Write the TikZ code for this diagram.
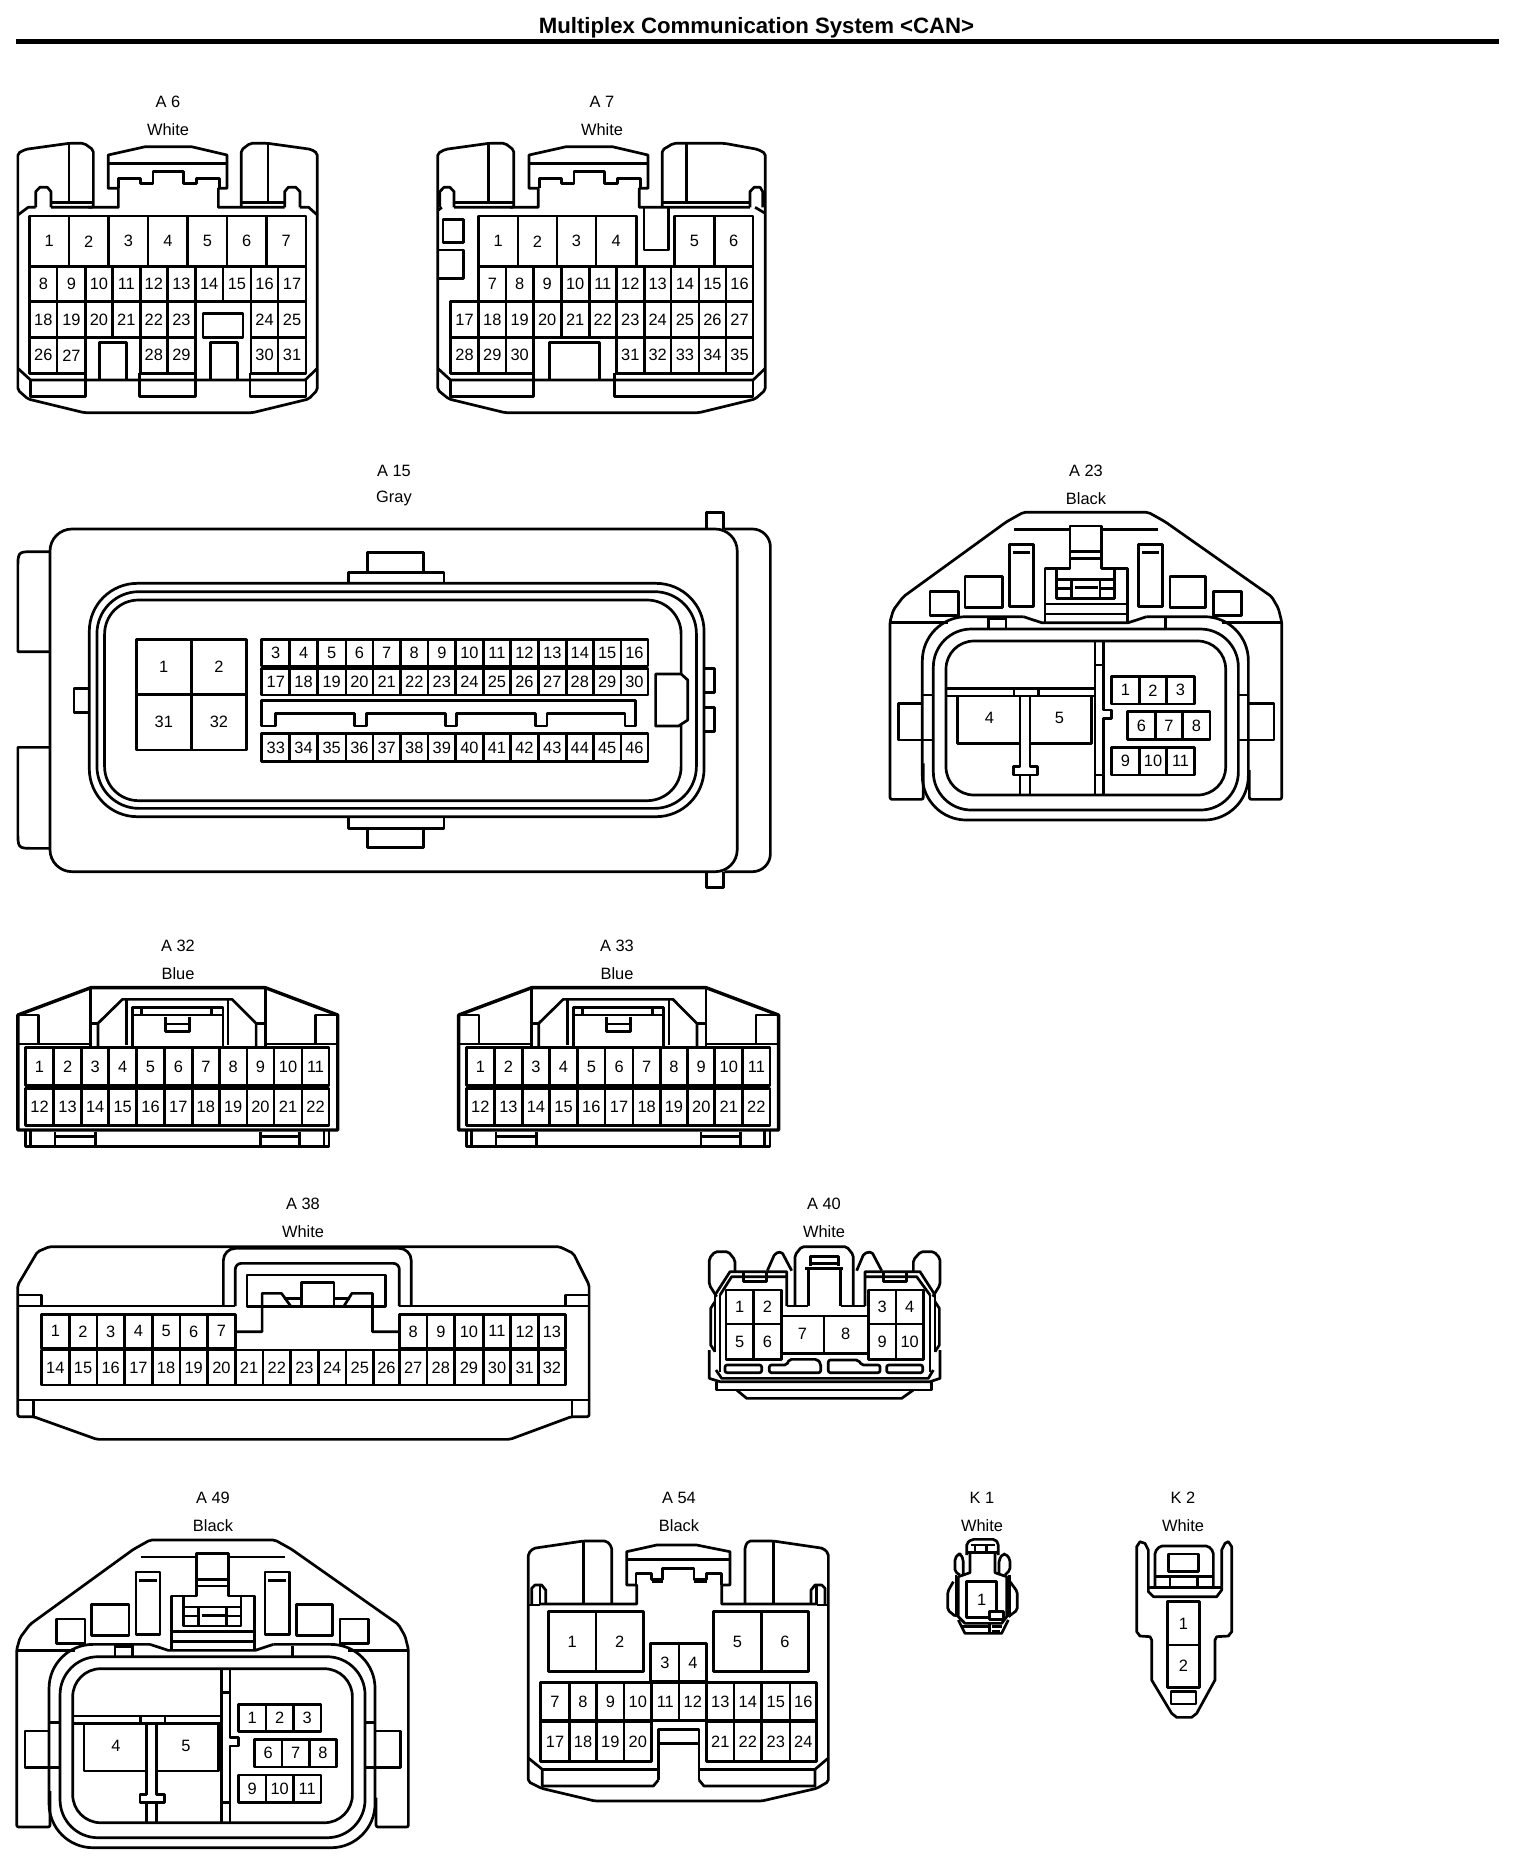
\documentclass[tikz,border=0pt]{standalone}
\usepackage{fontspec}
\setmainfont{Liberation Sans}
\tikzset{
 num/.style={font=\fontsize{8.2pt}{9pt}\selectfont,inner sep=0pt},
 lbl/.style={font=\fontsize{8.2pt}{9pt}\selectfont,inner sep=0pt},
 za/.style={x=0.2551pt,y=-0.16667pt},
 zb/.style={x=0.1977pt,y=-0.16667pt},
 zi/.style={x=0.16667pt,y=-0.16667pt},
 rc/.style={rounded corners=1pt},
}
\newcommand\pinrow[4]{\pgfmathtruncatemacro\pinst{#3-1}\foreach \x [remember=\x as \px (initially 0),count=\c from \pinst] in {#4}{\ifnum\c=\pinst\relax\else\draw (\px,#1) rectangle node[num]{\c} (\x,#2);\fi}}
\newcommand\clabel[5]{\node[lbl] (#1id) at (#2,#3) {#4}; \node[lbl] (#1col) at (#2,#3+27.6) {#5};}
\newcommand\keyconn[1]{%
\begin{scope}[shift={(#1)},zi]
\draw[rc] (190,940)--(190,1048)--(90,1048)--(90,515)--(100,480)--(130,440)--(440,215)--(490,187)--(865,187)--(915,215)--(1235,440)--(1255,475)--(1265,515)--(1265,1048)--(1168,1048)--(1168,960);
\draw (90,518)--(265,518); \draw (1265,518)--(1085,518);
\draw[rounded corners=22pt] (490,500)--(187,500)--(187,1110)--(1165,1110)--(1165,500)--(860,500);
\draw (490,500)--(545,518)--(805,518)--(860,500);
\draw[rounded corners=19pt] (220,537) rectangle (1135,1080);
\draw[rounded corners=14pt] (258,573) rectangle (1097,1035);
\draw (385,500)--(385,537); \draw (438,500)--(438,537); \draw (385,506)--(438,506); \draw (917,505)--(917,537);
\draw (555,520)--(555,355)--(630,355)--(630,228)--(725,228)--(725,355)--(803,355)--(803,520);
\draw (555,462)--(803,462); \draw (555,492)--(803,492);
\draw (590,355)--(590,445)--(763,445)--(763,355);
\draw (595,388)--(760,388); \draw (595,415)--(635,415); \draw (720,415)--(760,415); \draw (635,388)--(635,445); \draw (720,388)--(720,445);
\draw (645,413)--(715,413);
\draw (630,305)--(725,305); \draw (630,325)--(725,325);
\draw (462,238)--(630,238); \draw (725,238)--(895,238);
\draw (448,283) rectangle (520,470); \draw (458,308)--(510,308);
\draw (835,283) rectangle (908,470); \draw (845,308)--(898,308);
\draw (315,380) rectangle (427,473); \draw (930,380) rectangle (1037,473);
\draw (210,424) rectangle (295,497); \draw (1060,424) rectangle (1145,497);
\draw (187,760)--(115,760)--(115,870)--(220,870); \draw (187,735)--(220,735);
\draw (1165,760)--(1242,760)--(1242,870)--(1135,870); \draw (1135,735)--(1165,735);
\draw (705,575)--(705,1035); \draw (730,575)--(730,780)--(755,780)--(755,805)--(730,805)--(730,1035);
\draw (705,645)--(730,645); \draw (705,975)--(730,975);
\draw (258,715)--(705,715); \draw (258,738)--(705,738); \draw (462,715)--(462,738); \draw (535,715)--(535,738);
\draw (480,738)--(480,950)--(460,950)--(460,975)--(533,975)--(533,950)--(510,950)--(510,738);
\draw (480,975)--(480,1035); \draw (510,975)--(510,1035);
\draw (292,738)--(292,880)--(480,880); \draw (510,880)--(695,880)--(695,738);
\node[num] at (388,805) {4}; \node[num] at (598,805) {5};
\pinrow{680}{762}{1}{755,838,920,1003}
\pinrow{785}{868}{6}{803,886,968,1050}
\pinrow{892}{975}{9}{755,838,920,1003}
\end{scope}}
\newcommand\bluecon[1]{%
\begin{scope}[shift={(#1)},za]
\draw[line width=1.7pt] (35,285)--(178,203)--(520,203)--(662,285)--(662,630)--(35,630)--cycle;
\draw (35,285)--(75,285)--(75,372); \draw (662,285)--(618,285)--(618,372);
\draw (35,372)--(178,372); \draw (520,372)--(662,372);
\draw (178,203)--(178,380); \draw (520,203)--(520,380);
\draw (192,380)--(192,310)--(240,238)--(455,238)--(502,310)--(502,380);
\draw (178,310)--(192,310); \draw (502,310)--(520,310);
\draw (248,238)--(248,375); \draw (447,238)--(447,375);
\draw (260,380)--(260,262)--(437,262)--(437,380);
\draw (260,285)--(437,285); \draw (278,262)--(278,285); \draw (415,262)--(415,285);
\draw (325,290)--(325,335)--(372,335)--(372,290); \draw (325,312)--(372,312);
\pinrow{382}{497}{1}{50,105,160,213,268,322,377,430,484,537,592,645}
\pinrow{505}{617}{12}{50,105,160,213,268,322,377,430,484,537,592,645}
\draw (50,630)--(50,680)--(645,680)--(645,630); \draw (60,630)--(60,680); \draw (635,630)--(635,680);
\draw (108,635)--(108,680); \draw (187,635)--(187,680); \draw (110,650)--(187,650);
\draw (510,635)--(510,680); \draw (587,635)--(587,680); \draw (510,650)--(587,650);
\end{scope}}
\begin{document}
\begin{tikzpicture}[x=0.5pt,y=-0.5pt,line width=1.35pt,line cap=butt,line join=round]
\useasboundingbox (0,0) rectangle (1536,1864);
\fill[white] (0,0) rectangle (1536,1864);
\node[font=\fontsize{11.1pt}{13pt}\selectfont\bfseries,inner sep=0pt] (title) at (756.5,27.5) {Multiplex Communication System <CAN>};
\draw[line width=2.4pt] (16,41.7)--(1499,41.7);
\clabel{a6}{168}{102}{A 6}{White}
\clabel{a7}{602}{102}{A 7}{White}
\clabel{a15}{394}{471}{A 15}{Gray}
\clabel{a23}{1086}{471}{A 23}{Black}
\clabel{a32}{178}{946}{A 32}{Blue}
\clabel{a33}{617}{946}{A 33}{Blue}
\clabel{a38}{303}{1204}{A 38}{White}
\clabel{a40}{824}{1204}{A 40}{White}
\clabel{a49}{213}{1498}{A 49}{Black}
\clabel{a54}{679}{1498}{A 54}{Black}
\clabel{k1}{982}{1498}{K 1}{White}
\clabel{k2}{1183}{1498}{K 2}{White}
% A6
\begin{scope}[shift={(0,0)},za]
\draw[rc] (173,622)--(183,622)--(183,450)--(165,430)--(135,430)--(50,448)--(35,460)--(35,1170)--(55,1197)--(165,1238)--(495,1238)--(605,1197)--(622,1170)--(622,460)--(610,448)--(525,430)--(490,430)--(473,450)--(473,622);
\draw (135,430)--(135,608); \draw (525,430)--(525,608);
\draw (100,608)--(183,608); \draw (473,608)--(558,608);
\draw (100,622)--(232,622)--(232,565)--(212,565)--(212,465)--(285,440)--(375,440)--(445,465)--(445,565)--(428,565)--(428,622)--(558,622);
\draw (212,490)--(445,490);
\draw (232,565)--(232,535)--(275,535)--(275,550)--(300,550)--(300,515)--(360,515)--(360,550)--(385,550)--(385,535)--(430,535)--(430,565);
\draw (70,622)--(70,575)--(78,562)--(93,562)--(100,575)--(100,622);
\draw (558,622)--(558,575)--(565,562)--(580,562)--(588,575)--(588,622);
\draw (35,645)--(55,622)--(70,622); \draw (622,645)--(605,622)--(588,622);
\draw (35,1105)--(60,1140)--(598,1140)--(622,1105);
\draw (60,1140)--(60,1190)--(168,1190)--(168,1120);
\draw (273,1120)--(273,1190)--(383,1190)--(383,1120);
\draw (490,1120)--(490,1190)--(600,1190)--(600,1140);
\pinrow{648}{800}{1}{58,135,213,290,368,445,522,600}
\pinrow{800}{905}{8}{58,112,168,220,275,328,383,437,492,545,600}
\pinrow{905}{1012}{18}{58,112,168,220,275,328,383}
\pinrow{905}{1012}{24}{492,545,600}
\pinrow{1012}{1120}{26}{58,112,168}
\pinrow{1012}{1120}{28}{275,328,383}
\pinrow{1012}{1120}{30}{492,545,600}
\draw (398,940) rectangle (476,1012);
\draw (195,1140)--(195,1027)--(248,1027)--(248,1140);
\draw (412,1140)--(412,1027)--(465,1027)--(465,1140);
\end{scope}
% A7
\begin{scope}[shift={(0,0)},za]
\draw[rc] (1000,622)--(1007,622)--(1007,450)--(990,430)--(958,430)--(873,448)--(858,460)--(858,1170)--(880,1197)--(990,1238)--(1370,1238)--(1480,1197)--(1500,1170)--(1500,460)--(1485,448)--(1420,430)--(1320,430)--(1298,450)--(1298,622);
\draw (958,430)--(958,608); \draw (1345,430)--(1345,608);
\draw (890,608)--(1007,608); \draw (1298,608)--(1470,608);
\draw (890,622)--(1055,622)--(1055,565)--(1037,565)--(1037,465)--(1110,440)--(1200,440)--(1270,465)--(1270,565)--(1253,565)--(1253,622)--(1470,622);
\draw (1037,490)--(1270,490);
\draw (1057,565)--(1057,535)--(1100,535)--(1100,550)--(1125,550)--(1125,515)--(1185,515)--(1185,550)--(1210,550)--(1210,535)--(1255,535)--(1255,565);
\draw (862,622)--(862,575)--(870,562)--(882,562)--(890,575)--(890,622);
\draw (1470,622)--(1470,575)--(1478,562)--(1490,562)--(1495,575)--(1495,622);
\draw (858,632)--(866,622); \draw (1500,640)--(1480,622);
\draw (1262,622)--(1262,750)--(1310,750)--(1310,622);
\draw (868,658) rectangle (908,728);
\draw (858,750)--(908,750)--(908,835)--(858,835);
\pinrow{648}{800}{1}{938,1015,1092,1168,1247}
\pinrow{648}{800}{5}{1322,1400,1476}
\pinrow{800}{905}{7}{938,992,1045,1100,1155,1208,1263,1315,1370,1423,1476}
\pinrow{905}{1012}{17}{883,938,992,1045,1100,1155,1208,1263,1315,1370,1423,1476}
\pinrow{1012}{1120}{28}{883,938,992,1045}
\pinrow{1012}{1120}{31}{1208,1263,1315,1370,1423,1476}
\draw (1077,1140)--(1077,1027)--(1175,1027)--(1175,1140);
\draw (858,1105)--(883,1140)--(1476,1140)--(1500,1105);
\draw (883,1140)--(883,1190)--(1045,1190)--(1045,1120);
\draw (1205,1120)--(1205,1190)--(1476,1190)--(1476,1140);
\end{scope}
% A15
\begin{scope}[shift={(0,450)},za]
\draw (1385,237)--(1385,187)--(1418,187)--(1418,237);
\draw (1385,1265)--(1385,1312)--(1418,1312)--(1418,1265);
\draw[rounded corners=9pt] (1420,237)--(1510,237)--(1510,1265)--(1420,1265);
\draw[rounded corners=11pt] (98,237) rectangle (1445,1265);
\draw (98,305)--(65,305) .. controls (35,305) .. (35,360)--(35,605)--(98,605);
\draw (98,892)--(35,892)--(35,1140) .. controls (35,1195) .. (65,1195)--(98,1195);
\draw (720,367)--(720,307)--(830,307)--(830,367);
\draw (683,397)--(683,367)--(870,367)--(870,397);
\draw (683,1103)--(683,1135)--(870,1135)--(870,1103);
\draw (720,1135)--(720,1193)--(830,1193)--(830,1135);
\draw[rounded corners=24pt] (175,400) rectangle (1380,1100);
\draw[rounded corners=21pt] (190,425) rectangle (1365,1075);
\draw[rounded corners=17pt] (205,450) rectangle (1335,1052);
\draw (172,715)--(145,715)--(145,787)--(172,787);
\draw (1380,655)--(1400,655)--(1400,728)--(1380,728);
\draw (1380,772)--(1400,772)--(1400,845)--(1380,845);
\draw[fill=white] (1285,672)--(1335,672)--(1348,690)--(1348,810)--(1330,828)--(1285,828)--cycle;
\pinrow{568}{733}{1}{267,375,483}
\pinrow{733}{900}{31}{267,375,483}
\pinrow{568}{648}{3}{513,568,622,678,731,785,839,893,947,1001,1055,1110,1163,1217,1270}
\pinrow{655}{735}{17}{513,568,622,678,731,785,839,893,947,1001,1055,1110,1163,1217,1270}
\pinrow{850}{935}{33}{513,568,622,678,731,785,839,893,947,1001,1055,1110,1163,1217,1270}
\draw (513,828)--(513,752)--(1245,752)--(1245,828)--(1225,828)--(1225,790)--(1072,790)--(1072,828)--(1050,828)--(1050,790)--(895,790)--(895,828)--(873,828)--(873,790)--(718,790)--(718,828)--(695,828)--(695,790)--(540,790)--(540,828)--cycle;
\end{scope}
\keyconn{860,450}
\keyconn{-13.3,1477.7}
\bluecon{0,920}
\bluecon{440.8,920}
% A38
\begin{scope}[shift={(0,1180)},zb]
\draw[rc] (45,710)--(45,315)--(95,215)--(125,200)--(1415,200)--(1450,220)--(1490,315)--(1490,710)--(1445,710)--(1290,778)--(245,778)--(85,710)--cycle;
\draw (45,378)--(595,378); \draw (1010,378)--(1490,378);
\draw (45,345)--(105,345)--(105,378); \draw (1430,378)--(1430,345)--(1490,345);
\draw (45,660)--(1490,660); \draw (85,660)--(85,710); \draw (1447,660)--(1447,710);
\draw[rounded corners=6pt] (565,378)--(565,205)--(1040,205)--(1040,378);
\draw[rounded corners=3pt] (595,378)--(595,250)--(1010,250)--(1010,378);
\draw (625,285) rectangle (975,380);
\draw (595,455)--(663,455)--(663,340)--(712,340)--(735,378);
\draw (1010,455)--(942,455)--(942,340)--(890,340)--(870,378);
\draw (718,355)--(762,355); \draw (845,355)--(885,355);
\draw (762,378)--(762,308)--(845,308)--(845,378);
\pinrow{403}{505}{1}{105,175,245,315,385,455,525,595}
\pinrow{403}{505}{8}{1010,1080,1150,1222,1292,1362,1430}
\pinrow{510}{615}{14}{105,175,245,315,385,455,525,595,665,735,805,875,945,1010,1080,1150,1222,1292,1362,1430}
\end{scope}
% A40
\begin{scope}[shift={(680,1180)},zi]
\draw[rc] (110,350)--(88,315)--(88,235)--(105,215)--(145,215)--(165,240)--(165,275);
\draw[rc] (758,350)--(780,315)--(780,235)--(762,215)--(722,215)--(700,240)--(700,275);
\draw[rc] (262,272)--(285,220)--(305,215)--(335,272);
\draw[rc] (530,272)--(552,220)--(575,215)--(605,272);
\draw[rc] (345,378)--(345,225)--(365,200)--(500,200)--(520,225)--(520,378);
\draw (375,265)--(490,265); \draw (385,265)--(385,378); \draw (482,265)--(482,378);
\draw (320,378)--(385,378); \draw (482,378)--(555,378);
\draw (105,345)--(150,275)--(320,275)--(320,378); \draw (555,378)--(555,275)--(720,275)--(765,345);
\draw (120,345)--(155,290)--(320,290); \draw (555,290)--(710,290)--(750,345);
\draw (392,258)--(392,230)--(475,230)--(475,258); \draw (392,250)--(475,250);
\draw (105,345)--(105,515); \draw (765,345)--(765,515);
\draw (120,345)--(120,575); \draw (750,345)--(750,575);
\draw (105,365)--(92,385)--(92,495)--(105,515);
\draw (765,365)--(778,385)--(778,495)--(765,515);
\draw (190,280)--(190,305)--(260,305)--(260,280);
\draw (610,280)--(610,305)--(680,305)--(680,280);
\draw (88,510)--(88,595)--(120,605)--(750,605)--(780,595)--(780,510);
\draw (108,570)--(125,595)--(745,595)--(760,570);
\draw (110,605)--(110,630)--(755,630)--(755,605);
\draw (170,630)--(200,655)--(665,655)--(700,630);
\draw[rc] (135,555) rectangle (245,578);
\draw[rc] (268,578)--(268,555)--(320,555)--(328,538)--(412,538)--(422,550)--(422,578)--cycle;
\draw[rc] (445,578)--(445,540)--(535,540)--(545,555)--(600,555)--(600,578)--cycle;
\draw[rc] (620,555) rectangle (728,578);
\draw (305,408) rectangle (432,520); \draw (432,408) rectangle (565,520);
\node[num] at (367,462) {7}; \node[num] at (497,462) {8};
\pinrow{330}{432}{1}{138,220,305}
\pinrow{432}{538}{5}{138,220,305}
\pinrow{330}{432}{3}{565,648,730}
\pinrow{432}{538}{9}{565,648,730}
\end{scope}
% A54
\begin{scope}[shift={(510,1480)},zi]
\draw[rc] (305,370)--(305,200)--(290,183)--(220,183)--(70,205)--(55,220)--(55,905)--(95,925)--(255,963)--(755,963)--(920,925)--(955,905)--(955,220)--(940,205)--(790,183)--(715,183)--(705,200)--(705,370);
\draw (220,183)--(220,370); \draw (790,183)--(790,370);
\draw (90,372)--(380,372)--(380,315)--(350,315)--(350,215)--(440,195)--(560,195)--(660,215)--(660,315)--(635,315)--(635,372)--(920,372);
\draw (350,238)--(660,238);
\draw (378,315)--(378,280)--(425,280)--(425,298)--(458,298)--(458,265)--(552,265)--(552,298)--(590,298)--(590,280)--(635,280)--(635,315);
\draw (425,305)--(458,305); \draw (552,305)--(590,305);
\draw (65,375)--(65,325)--(75,315)--(95,315)--(107,330)--(107,372); \draw (90,318)--(90,375); \draw (55,375)--(90,375);
\draw (945,375)--(945,325)--(935,315)--(915,315)--(903,330)--(903,372); \draw (920,318)--(920,375); \draw (920,375)--(955,375);
\pinrow{395}{575}{1}{115,258,400}
\pinrow{395}{575}{5}{610,755,895}
\pinrow{490}{605}{3}{422,507,590}
\pinrow{607}{722}{7}{92,178,260,342,425,507,590,672,755,840,920}
\pinrow{725}{845}{17}{92,178,260,342,425}
\pinrow{725}{845}{21}{590,672,755,840,920}
\draw (445,900)--(445,748)--(567,748)--(567,900);
\draw (445,790)--(567,790);
\draw (445,900)--(430,918)--(97,918)--(97,868); \draw (567,900)--(582,918)--(915,918)--(915,868);
\draw (97,868)--(445,868); \draw (567,868)--(915,868);
\draw (55,834)--(97,868); \draw (955,834)--(915,868);
\end{scope}
% K1, K2
\begin{scope}[shift={(920,1480)},zi]
\draw[rc] (140,225)--(140,190)--(155,178)--(225,178)--(235,190)--(235,225);
\draw (152,195)--(225,195); \draw (140,218)--(235,218); \draw (165,195)--(165,218); \draw (200,195)--(200,218);
\draw[rc] (120,285)--(105,275)--(105,235)--(115,222)--(122,222)--(130,240)--(130,285);
\draw[rc] (237,285)--(237,240)--(248,222)--(258,222)--(270,238)--(270,270)--(255,285);
\draw (150,218)--(150,278)--(115,290)--(115,410)--(135,430)--(245,430)--(260,410)--(260,290)--(225,278)--(225,218);
\draw (108,285)--(108,412); \draw (268,285)--(268,412);
\draw[rc] (100,305)--(83,335)--(83,390)--(105,408); \draw[rc] (270,305)--(292,335)--(292,390)--(265,410);
\draw (140,305) rectangle node[num]{1} (230,412);
\draw[fill=white] (208,395) rectangle (250,418);
\draw (115,420)--(135,460)--(245,460)--(265,420);
\draw (125,440)--(205,440); \draw (208,430)--(208,460); \draw (215,440)--(245,440); \draw (215,453)--(240,453);
\draw (650,455)--(650,200)--(660,185)--(675,190)--(685,210)--(685,335)--(700,350)--(890,350)--(905,330)--(905,210)--(915,190)--(925,185)--(935,200)--(935,455)--(925,468)--(890,470)--(885,480)--(885,600)--(830,700)--(815,712)--(770,712)--(755,700)--(695,600)--(695,480)--(690,470)--(660,468)--cycle;
\draw[rc] (705,322)--(705,215)--(720,198)--(865,198)--(880,215)--(880,322);
\draw (745,222) rectangle (835,275);
\draw (705,290)--(880,290); \draw (685,322)--(905,322);
\draw (750,293)--(750,320); \draw (832,293)--(832,320);
\draw (742,365) rectangle node[num]{1} (838,495);
\draw (742,495) rectangle node[num]{2} (838,622);
\draw (753,635) rectangle (828,672);
\end{scope}
\end{tikzpicture}
\end{document}
